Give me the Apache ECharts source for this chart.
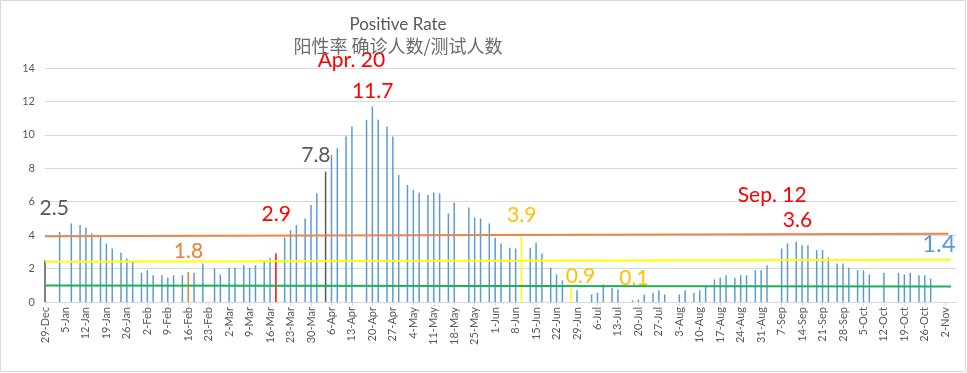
<!DOCTYPE html>
<html>
<head>
<meta charset="utf-8">
<script src="https://cdn.jsdelivr.net/npm/echarts@6/dist/echarts.min.js"></script>
<style>html,body{margin:0;padding:0;background:#fff}#c{width:967px;height:373px}</style>
</head>
<body>
<div id="c"></div>
<script>
// ---- data ----
const barDates = ['29-Dec','3-Jan','7-Jan','10-Jan','12-Jan','14-Jan','17-Jan','19-Jan','21-Jan','24-Jan','26-Jan','28-Jan','31-Jan',
  '2-Feb','4-Feb','7-Feb','9-Feb','11-Feb','14-Feb','16-Feb','18-Feb','21-Feb','25-Feb','27-Feb',
  '2-Mar','4-Mar','7-Mar','9-Mar','11-Mar','14-Mar','16-Mar','18-Mar','21-Mar','23-Mar','25-Mar','28-Mar','30-Mar',
  '1-Apr','4-Apr','6-Apr','8-Apr','11-Apr','13-Apr','18-Apr','20-Apr','22-Apr','25-Apr','27-Apr','29-Apr',
  '2-May','4-May','6-May','9-May','11-May','13-May','16-May','18-May','23-May','25-May','27-May','30-May',
  '1-Jun','3-Jun','6-Jun','8-Jun','10-Jun','13-Jun','15-Jun','17-Jun','20-Jun','22-Jun','24-Jun','27-Jun','29-Jun',
  '4-Jul','6-Jul','8-Jul','11-Jul','13-Jul','15-Jul','18-Jul','20-Jul','22-Jul','25-Jul','27-Jul','29-Jul',
  '3-Aug','5-Aug','8-Aug','10-Aug','12-Aug','15-Aug','17-Aug','19-Aug','22-Aug','24-Aug','26-Aug','29-Aug','31-Aug',
  '2-Sep','7-Sep','9-Sep','12-Sep','14-Sep','16-Sep','19-Sep','21-Sep','23-Sep','26-Sep','28-Sep','30-Sep',
  '3-Oct','5-Oct','7-Oct','12-Oct','17-Oct','19-Oct','21-Oct','24-Oct','26-Oct','28-Oct'];
const barValues = [2.5,4.2,4.7,4.6,4.45,4.1,3.95,3.5,3.2,2.95,2.6,2.4,1.75,
  1.9,1.6,1.6,1.45,1.6,1.6,1.8,1.75,2.3,2.0,1.65,
  2.05,2.05,2.2,2.05,2.2,2.5,2.65,2.9,3.85,4.3,4.6,5.0,5.8,
  6.5,7.8,8.8,9.2,9.9,10.5,10.9,11.7,10.9,10.5,9.9,7.6,
  7.0,6.7,6.55,6.4,6.55,6.5,5.3,5.95,5.65,5.05,5.0,4.7,
  3.85,3.5,3.25,3.2,3.9,3.25,3.55,2.9,2.05,1.65,1.3,0.9,0.7,
  0.45,0.55,1.05,0.85,0.75,0.05,0.1,0.15,0.45,0.55,0.7,0.45,
  0.45,0.7,0.55,0.7,1.0,1.35,1.45,1.6,1.45,1.6,1.6,1.9,1.9,
  2.2,3.2,3.5,3.6,3.4,3.4,3.1,3.1,2.65,2.3,2.3,2.05,
  1.9,1.9,1.65,1.75,1.75,1.65,1.75,1.6,1.6,1.4];

// highlighted bars and their labels
const labelDates = ['29-Dec','16-Feb','18-Mar','4-Apr','20-Apr','10-Jun','27-Jun','15-Jul','12-Sep','28-Oct'];
const labelTexts = ['2.5','1.8','2.9','7.8','11.7','3.9','0.9','0.1','3.6','1.4'];
const noteDates = ['20-Apr','12-Sep'];
const noteTexts = ['Apr. 20','Sep. 12'];

// trend lines: [start value, end value]
const orangeLine = [3.93, 4.08];
const yellowLine = [2.41, 2.53];
const greenLine = [0.98, 0.93];

const yTicks = [0, 2, 4, 6, 8, 10, 12, 14];

// ---- build category axis (one category per day) ----
const months = ['Jan','Feb','Mar','Apr','May','Jun','Jul','Aug','Sep','Oct','Nov','Dec'];
const startMs = Date.UTC(2020, 11, 29);
const dayCats = [];
for (let i = 0; i <= 312; i++) {
  const d = new Date(startMs + i * 86400000);
  dayCats.push(d.getUTCDate() + '-' + months[d.getUTCMonth()]);
}

// ---- styles ----
const BLUE = '#5B9BD5', GRAY = '#595959', ORANGE = '#ED7D31', RED = '#FF0000', GOLD = '#FFC000', YEL = '#FFFF00';
const barColors = {'29-Dec':GRAY,'16-Feb':ORANGE,'18-Mar':RED,'4-Apr':GRAY,'10-Jun':YEL,'27-Jun':YEL,'15-Jul':YEL};
const labelStyle = {
  '29-Dec': {color:GRAY, dx:10, dy:-52, size:21},
  '16-Feb': {color:ORANGE, dx:1, dy:-21, size:21},
  '18-Mar': {color:RED, dx:1, dy:-39, size:21},
  '4-Apr':  {color:GRAY, dx:-9, dy:-16, size:21},
  '20-Apr': {color:RED, dx:1, dy:-15, size:21},
  '10-Jun': {color:GOLD, dx:1, dy:-22, size:21},
  '27-Jun': {color:GOLD, dx:10, dy:-11, size:21},
  '15-Jul': {color:GOLD, dx:11, dy:-23, size:21},
  '12-Sep': {color:RED, dx:2, dy:-22, size:21},
  '28-Oct': {color:BLUE, dx:9, dy:-34, size:24}
};
const noteStyle = {'20-Apr': [-21, -46], '12-Sep': [-24, -47]};
const FONT = 'Lato, "Open Sans", sans-serif';

const barData = dayCats.map(() => null);
barDates.forEach((d, i) => {
  const idx = dayCats.indexOf(d);
  const item = {value: barValues[i], itemStyle: {color: barColors[d] || BLUE}};
  const li = labelDates.indexOf(d);
  if (li >= 0) {
    const s = labelStyle[d];
    item.label = {show: true, formatter: labelTexts[li], position: [s.dx, s.dy],
      align: 'center', verticalAlign: 'middle', color: s.color, fontSize: s.size, fontFamily: FONT};
  }
  barData[idx] = item;
});

const notes = noteDates.map((d, i) => ({
  coord: [d, barValues[barDates.indexOf(d)]],
  symbol: 'rect', symbolSize: 1, itemStyle: {color: 'rgba(0,0,0,0)'},
  label: {show: true, formatter: noteTexts[i], position: 'inside', offset: noteStyle[d],
    color: RED, fontSize: 21, fontFamily: FONT}
}));

function trend(vals, endIdx, color, width) {
  return {type: 'line', data: [[0, vals[0]], [endIdx, vals[1]]], symbol: 'none', silent: true,
    lineStyle: {color: color, width: width}, z: 5, animation: false};
}

const chart = echarts.init(document.getElementById('c'), null, {renderer: 'canvas'});
chart.setOption({
  animation: false,
  backgroundColor: '#fff',
  title: [
    {text: 'Positive Rate', left: 393, top: 11, textAlign: 'center',
      textStyle: {color: GRAY, fontSize: 17, fontWeight: 'normal', fontFamily: FONT}},
    {text: '阳性率 确诊人数/测试人数', left: 393, top: 32, textAlign: 'center',
      textStyle: {color: '#6A6A6A', fontSize: 18, fontWeight: 'normal', fontFamily: '"Noto Sans CJK SC", sans-serif'}}
  ],
  graphic: [{type: 'rect', shape: {x: 0.5, y: 0.5, width: 965, height: 371},
    style: {fill: 'none', stroke: '#D9D9D9', lineWidth: 1}, silent: true}],
  grid: {left: 45, right: 10, top: 68, bottom: 71},
  xAxis: {
    type: 'category', data: dayCats, boundaryGap: false,
    axisLine: {lineStyle: {color: '#D9D9D9'}},
    axisTick: {show: true, interval: (i) => i % 7 === 0, length: 4, lineStyle: {color: '#D9D9D9'}},
    axisLabel: {interval: (i) => i % 7 === 0, rotate: 90, margin: 5, color: GRAY, fontSize: 11, fontFamily: 'Lato, sans-serif'},
    splitLine: {show: false}
  },
  yAxis: {
    type: 'value', min: yTicks[0], max: yTicks[yTicks.length - 1], interval: 2,
    axisLine: {show: false}, axisTick: {show: false},
    axisLabel: {color: GRAY, fontSize: 11, margin: 10, fontFamily: 'Lato, sans-serif'},
    splitLine: {lineStyle: {color: '#D9D9D9'}}
  },
  series: [
    {type: 'bar', data: barData, barWidth: 1.5, z: 3, animation: false,
      markPoint: {data: notes, animation: false}},
    trend(orangeLine, 309, '#EE8446', 2),
    trend(yellowLine, 310, YEL, 2),
    trend(greenLine, 310, '#1DB055', 2)
  ]
});
</script>
</body>
</html>
